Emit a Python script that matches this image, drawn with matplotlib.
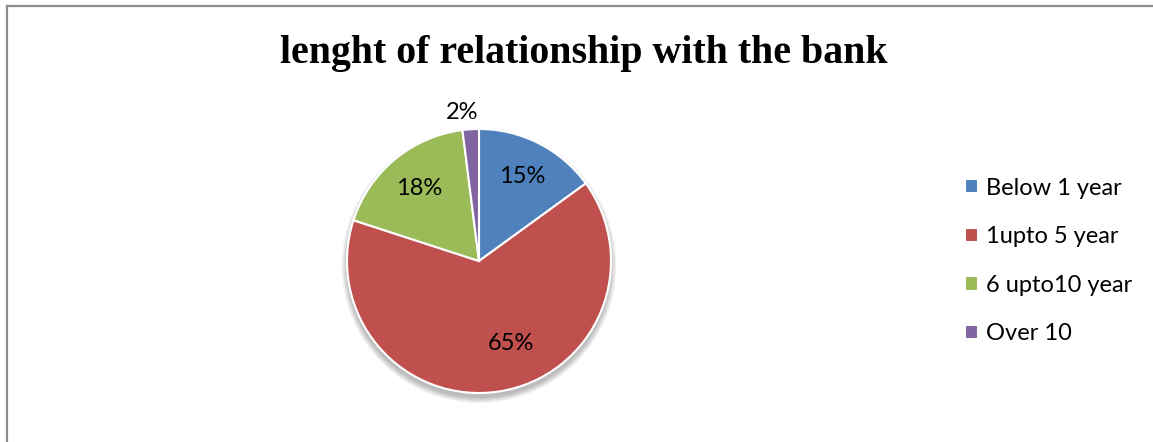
import numpy as np
import matplotlib.pyplot as plt
from matplotlib.patches import Circle
from matplotlib.lines import Line2D

categories = ["Below 1 year", "1upto 5 year", "6 upto10 year", "Over 10"]
shares = [15, 65, 18, 2]
colors = ["#4F81BD", "#C0504D", "#9BBB59", "#8064A2"]
title = "lenght of relationship with the bank"

W, H = 1153, 442
fig = plt.figure(figsize=(W / 100, H / 100), dpi=100)

# pie axes: centre (479, 261) px, radius 132 px
cx, cy, r = 479, 261, 132
ax = fig.add_axes([(cx - r) / W, (H - cy - r) / H, 2 * r / W, 2 * r / H])

# soft shadow underneath
for k in range(8):
    ax.add_patch(Circle((0, -0.035), 1.0 + 0.006 * k, color="black",
                        alpha=0.035, lw=0, zorder=0, clip_on=False))

wedges, texts, autotexts = ax.pie(
    shares, colors=colors, startangle=90, counterclock=False,
    autopct="%.0f%%", radius=1,
    wedgeprops=dict(edgecolor="white", linewidth=1.5),
    textprops=dict(fontsize=17, family="Lato", color="black"))
ax.set_xlim(-1, 1)
ax.set_ylim(-1, 1)
ax.axis("off")

# place data labels like the original (distance, extra angle shift)
dist = [0.72, 0.67, 0.71, 1.13]
shift = [0, 12, 0, 3]
for w, t, d, s in zip(wedges, autotexts, dist, shift):
    ang = np.deg2rad((w.theta1 + w.theta2) / 2 + s)
    t.set_position((d * np.cos(ang), d * np.sin(ang)))
    t.set_ha("center")
    t.set_va("center")

fig.text(584 / W, 1 - 53 / H, title, ha="center", va="center",
         fontsize=28.7, fontweight="bold", family="Liberation Serif")

fig.legend(wedges, categories, loc="center left",
           bbox_to_anchor=(944 / W, 1 - 261 / H), frameon=False,
           prop=dict(family="Lato", size=17),
           handlelength=0.55, handleheight=0.55, handletextpad=0.35,
           labelspacing=1.17)

# chart border (top and left visible)
fig.add_artist(Line2D([7 / W, 1], [1 - 6 / H, 1 - 6 / H], color="#8c8c8c", lw=1.6))
fig.add_artist(Line2D([7 / W, 7 / W], [0, 1 - 6 / H], color="#8c8c8c", lw=1.6))

fig.savefig("out.png", dpi=100)
